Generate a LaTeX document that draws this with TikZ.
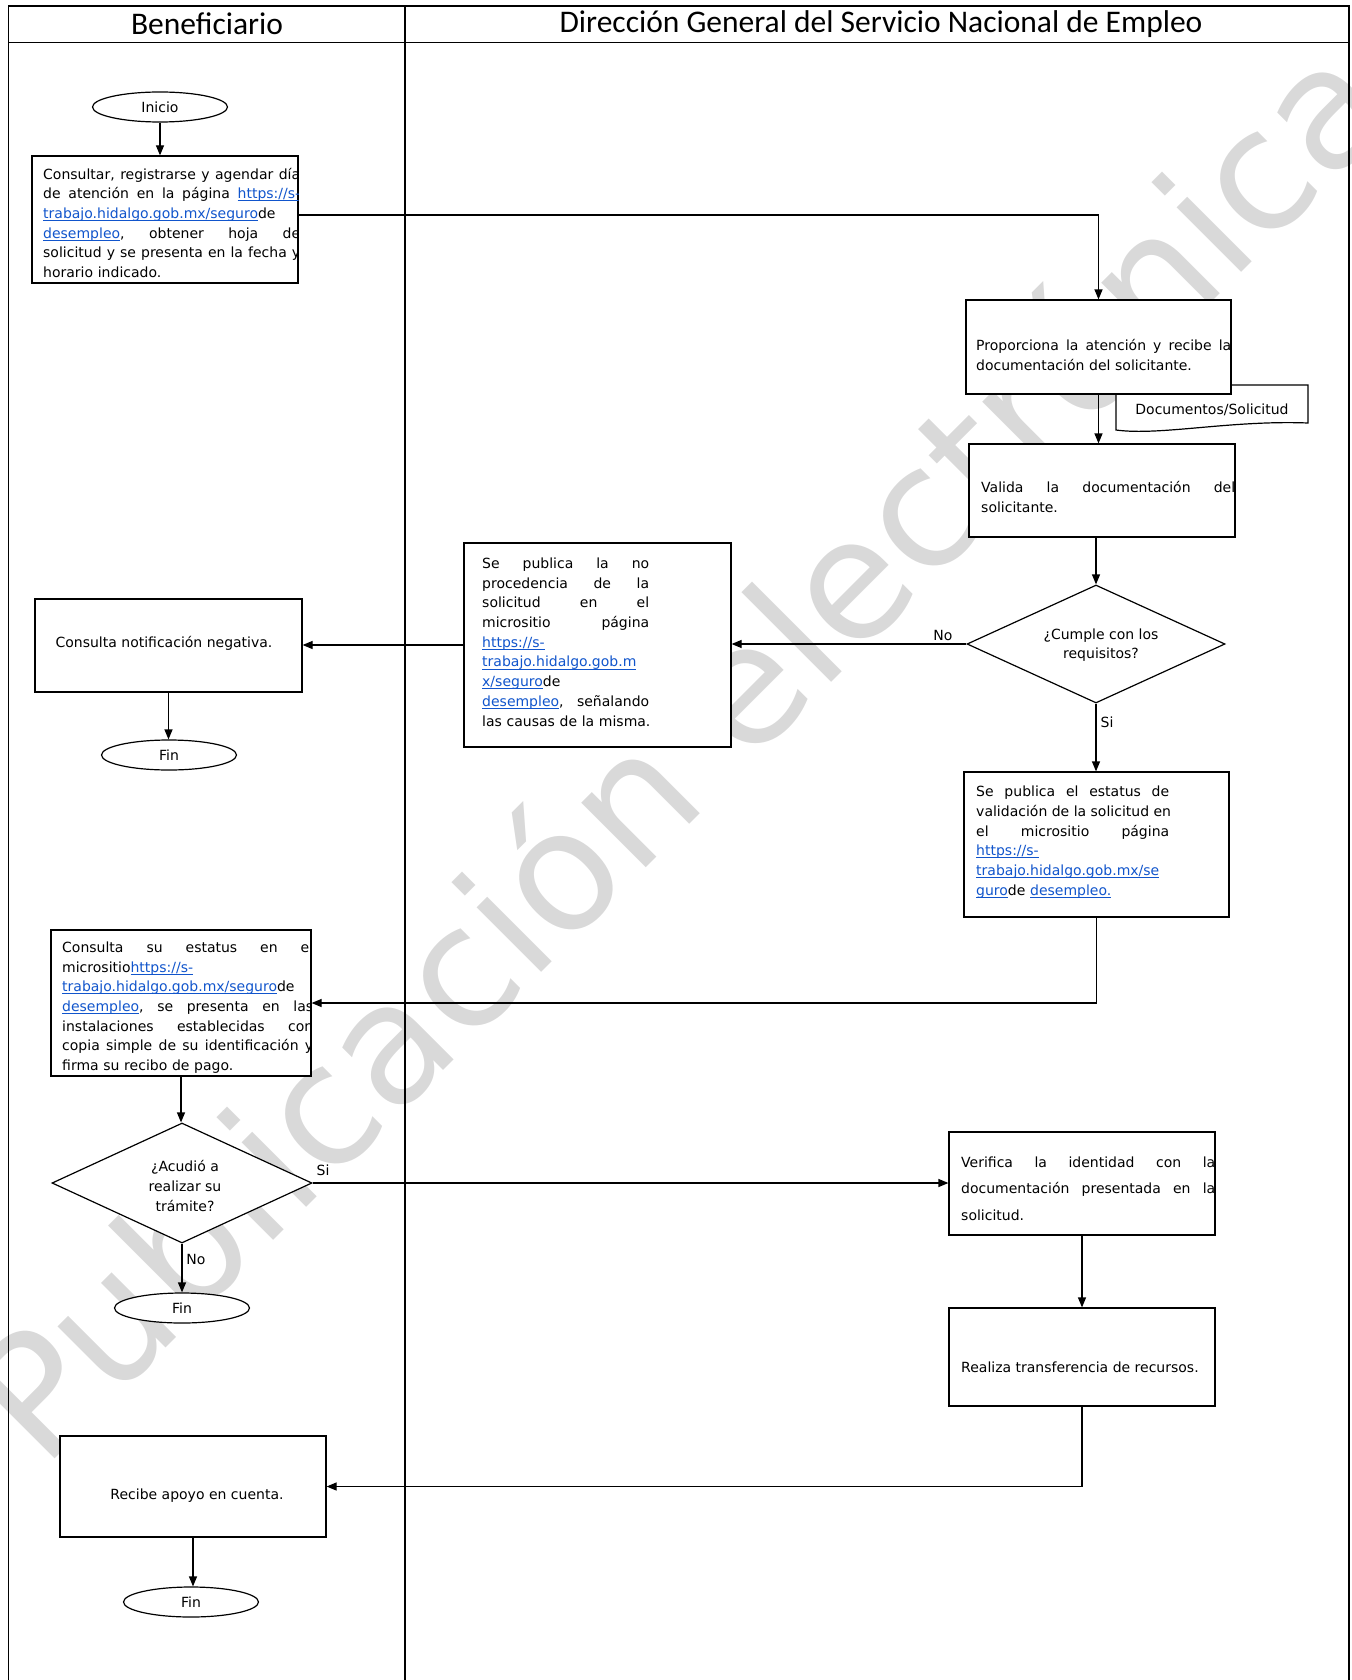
\documentclass[tikz,border=0pt]{standalone}
\usepackage{fontspec}
\setmainfont{DejaVu Sans}
\newfontfamily\headfont{Carlito}
\usetikzlibrary{shapes.geometric,arrows.meta}
\definecolor{linkblue}{RGB}{17,85,204}
\definecolor{wmgray}{RGB}{217,217,217}
\newcommand\lnk[1]{\leavevmode{\color{linkblue}\setbox0\hbox{#1}\rlap{\rule[-2.6pt]{\wd0}{0.9pt}}\box0}}
\newcommand\JL[1]{{\frenchspacing\spaceskip=\fontdimen2\font plus 1fil\relax\makebox[\JW][s]{#1}}}
\begin{document}
\begin{tikzpicture}[x=1pt,y=-1pt,
  every node/.style={font=\fontsize{14}{19.7}\selectfont},
  box/.style={draw, line width=1.2pt, fill=white, rectangle, inner sep=0pt},
  tb/.style={text width=300pt, align=left, inner sep=0pt, anchor=west,
    execute at begin node={\def\JW{#1}\parindent=0pt}},
  term/.style={draw, ellipse, line width=1.2pt, fill=white, minimum width=135pt, minimum height=30pt, inner sep=0pt},
  dec/.style={draw, diamond, line width=1.2pt, fill=white, inner sep=0pt},
  flow/.style={line width=1.2pt, -{Triangle[length=10pt,width=8pt]}},
  plain/.style={line width=1.2pt},
  lane/.style={line width=1.5pt},
  lbl/.style={inner sep=0pt},
  head/.style={font=\headfont\fontsize{31.5}{31.5}\selectfont, inner sep=0pt}
]
\useasboundingbox (0,0) rectangle (1351,1680);
% watermark
\node[font=\fontsize{167}{167}\selectfont, text=wmgray, rotate=45, inner sep=0pt, anchor=base west] (wm) at (43,1471) {Publicación electrónica};
% frame
\draw[lane] (8.6,1680) -- (8.6,6) -- (1349,6) -- (1349,1680);
\draw[lane] (8.6,42.5) -- (1349,42.5);
\draw[lane] (405,6) -- (405,1680);
\node[head] (hb) at (207,24) {Beneficiario};
\node[head] (hd) at (881,24) {Dirección General del Servicio Nacional de Empleo};
% start
\node[term] (ini) at (160,107) {Inicio};
\node[box, minimum width=266pt, minimum height=127pt] (b1) at (165,219.5) {};
\begin{scope}
\clip (b1.south west) rectangle (b1.north east);
\node[tb=257pt] (t1) at (43,222.8) {\JL{Consultar, registrarse y agendar día}\\
\JL{de atención en la página \lnk{https://s-}}\\
\lnk{trabajo.hidalgo.gob.mx/seguro}de\\
\JL{\lnk{desempleo}, obtener hoja de}\\
\JL{solicitud y se presenta en la fecha y}\\
horario indicado.};
\end{scope}
% document shape
\draw[plain, fill=white] (1116,385) -- (1308,385) -- (1308,423) .. controls (1230,420) and (1160,436) .. (1116,430) -- cycle;
\node (doc) at (1212,410) {Documentos/Solicitud};
\node[box, minimum width=265pt, minimum height=94pt] (prop) at (1098.5,347) {};
\node[tb=255pt] (tprop) at (976,355) {\JL{Proporciona la atención y recibe la}\\
documentación del solicitante.};
\node[box, minimum width=266pt, minimum height=93pt] (val) at (1102,490.5) {};
\node[tb=254pt] (tval) at (981,497) {\JL{Valida la documentación del}\\
solicitante.};
\node[dec, minimum width=258pt, minimum height=118pt] (d1) at (1096,644) {};
\node[align=center, inner sep=0pt] (td1) at (1101,645) {¿Cumple con los\\requisitos?};
\node[box, minimum width=267pt, minimum height=204pt] (np) at (597.5,645) {};
\node[tb=167pt] (tnp) at (482,642) {\JL{Se publica la no}\\
\JL{procedencia de la}\\
\JL{solicitud en el}\\
\JL{micrositio página}\\
\lnk{https://s-}\\
\lnk{trabajo.hidalgo.gob.m}\\
\lnk{x/seguro}de\\
\JL{\lnk{desempleo}, señalando}\\
las causas de la misma.};
\node[box, minimum width=267pt, minimum height=93pt] (cn) at (168.5,645.5) {};
\node[inner sep=0pt] (tcn) at (164,643) {Consulta notificación negativa.};
\node[term] (fin1) at (169,755) {Fin};
\node[box, minimum width=265pt, minimum height=145pt] (st) at (1096.5,844.5) {};
\node[tb=193pt] (tst) at (976,842) {\JL{Se publica el estatus de}\\
\JL{validación de la solicitud en}\\
\JL{el micrositio página}\\
\lnk{https://s-}\\
\lnk{trabajo.hidalgo.gob.mx/se}\\
\lnk{guro}de \lnk{desempleo.}};
\node[box, minimum width=260pt, minimum height=146pt] (ce) at (181,1003) {};
\begin{scope}
\clip (ce.south west) rectangle (ce.north east);
\node[tb=251pt] (tce) at (62,1007.6) {\JL{Consulta su estatus en el}\\
micrositio\lnk{https://s-}\\
\lnk{trabajo.hidalgo.gob.mx/seguro}de\\
\JL{\lnk{desempleo}, se presenta en las}\\
\JL{instalaciones establecidas con}\\
\JL{copia simple de su identificación y}\\
firma su recibo de pago.};
\end{scope}
\node[dec, minimum width=260pt, minimum height=120pt] (d2) at (182,1183) {};
\node[align=center, inner sep=0pt] (td2) at (185,1186) {¿Acudió a\\realizar su\\trámite?};
\node[term] (fin2) at (182,1308) {Fin};
\node[box, minimum width=266pt, minimum height=103pt] (ver) at (1082,1183.5) {};
\node[tb=254pt, font=\fontsize{14}{26.5}\selectfont] (tver) at (961,1188.5) {\JL{Verifica la identidad con la}\\
\JL{documentación presentada en la}\\
solicitud.};
\node[box, minimum width=266pt, minimum height=98pt] (rea) at (1082,1357) {};
\node[inner sep=0pt, anchor=west] (trea) at (961,1367) {Realiza transferencia de recursos.};
\node[box, minimum width=266pt, minimum height=101pt] (rec) at (193,1486.5) {};
\node[inner sep=0pt] (trec) at (197,1496) {Recibe apoyo en cuenta.};
\node[term] (fin3) at (191,1602) {Fin};
% labels
\node[lbl] (lno1) at (943,635) {No};
\node[lbl] (lsi1) at (1107,722) {Si};
\node[lbl] (lsi2) at (323,1170) {Si};
\node[lbl] (lno2) at (196,1259) {No};
% connectors
\draw[flow] (ini.south) -- (ini.south |- b1.north);
\draw[flow] ([yshift=4.5pt]b1.east) -| (prop.north);
\draw[flow] (prop.south) -- (prop.south |- val.north);
\draw[flow] (d1.north |- val.south) -- (d1.north);
\draw[flow] (d1.west) -- (d1.west -| np.east);
\draw[flow] (np.west) -- (np.west -| cn.east);
\draw[flow] (cn.south) -- (cn.south |- fin1.north);
\draw[flow] (d1.south) -- (d1.south |- st.north);
\draw[flow] (st.south) |- (ce.east);
\draw[flow] (ce.south) -- (ce.south |- d2.north);
\draw[flow] (d2.east) -- (d2.east -| ver.west);
\draw[flow] (d2.south) -- (d2.south |- fin2.north);
\draw[flow] (ver.south) -- (rea.north);
\draw[flow] (rea.south) |- (rec.east);
\draw[flow] (rec.south) -- (rec.south |- fin3.north);
\end{tikzpicture}
\end{document}
